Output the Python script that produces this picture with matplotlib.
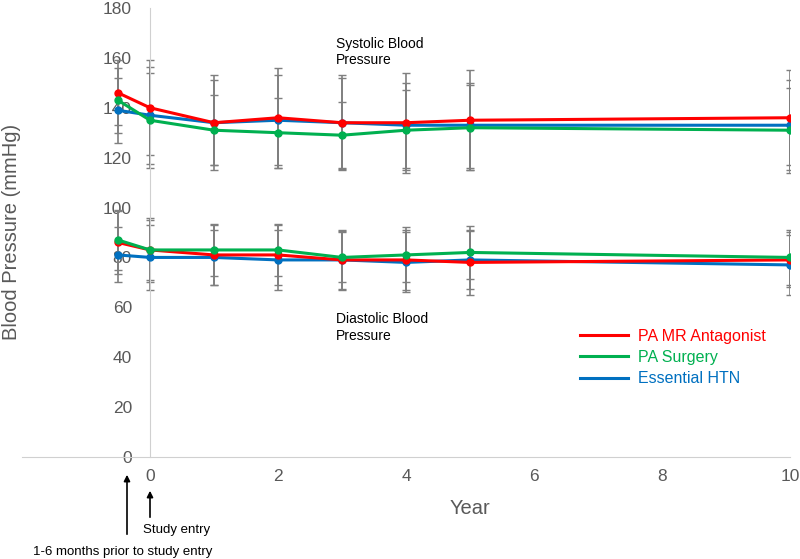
import matplotlib.pyplot as plt
from matplotlib.lines import Line2D

# Data
years = [-0.5, 0, 1, 2, 3, 4, 5, 10]

sys_mr = [146, 140, 134, 136, 134, 134, 135, 136]
sys_surg = [143, 135, 131, 130, 129, 131, 132, 131]
sys_htn = [139, 137, 134, 135, 134, 133, 133, 133]
sys_mr_sd = [13, 19, 19, 20, 19, 20, 20, 19]
sys_surg_sd = [13, 19, 14, 14, 13.5, 16, 17, 17]
sys_htn_sd = [13, 19.5, 17, 18, 18, 17, 17, 18]

dia_mr = [86, 83, 81, 81, 79, 79, 78, 79]
dia_surg = [87, 83, 83, 83, 80, 81, 82, 80]
dia_htn = [81, 80, 80, 79, 79, 78, 79, 77]
dia_mr_sd = [12.5, 13, 12, 12, 11.5, 12, 13, 11]
dia_surg_sd = [12, 12, 10.5, 10.5, 10, 11, 10.5, 11]
dia_htn_sd = [11, 13, 11, 12, 12, 12, 11.5, 12]

labels = ["PA MR Antagonist", "PA Surgery", "Essential HTN"]
colors = ["#ff0000", "#00b050", "#0070c0"]
xticks = [0, 2, 4, 6, 8, 10]
yticks = [0, 20, 40, 60, 80, 100, 120, 140, 160, 180]

plt.rcParams['font.family'] = ['Liberation Sans', 'DejaVu Sans']

fig = plt.figure(figsize=(8, 5.59), dpi=100)
ax = fig.add_axes([0.0275, 0.1825, 0.96, 0.8032])

series = [
    (sys_htn, sys_htn_sd, colors[2]),
    (sys_mr, sys_mr_sd, colors[0]),
    (sys_surg, sys_surg_sd, colors[1]),
    (dia_htn, dia_htn_sd, colors[2]),
    (dia_mr, dia_mr_sd, colors[0]),
    (dia_surg, dia_surg_sd, colors[1]),
]

# Error bars first, lines on top
for vals, sd, c in series:
    ax.errorbar(years, vals, yerr=sd, fmt='none', ecolor='#7f7f7f',
                elinewidth=1.2, capsize=3, capthick=1.0, zorder=2)
for vals, sd, c in series:
    ax.plot(years, vals, color=c, lw=2.2, marker='o', markersize=5, zorder=3)

ax.set_xlim(-2, 10)
ax.set_ylim(0, 180)
ax.set_xticks(xticks)
ax.set_yticks(yticks)

for s in ['top', 'right']:
    ax.spines[s].set_visible(False)
ax.spines['left'].set_position(('data', 0))
ax.spines['left'].set_color('#d0d0d0')
ax.spines['bottom'].set_color('#d0d0d0')
ax.tick_params(axis='both', length=0, labelsize=12.5, labelcolor='#595959')
ax.tick_params(axis='y', pad=13)
ax.tick_params(axis='x', pad=9)

# Section titles
ax.text(2.91, 162.4, "Systolic Blood\nPressure", fontsize=10, va='center',
        ha='left', linespacing=1.25)
ax.text(2.9, 52, "Diastolic Blood\nPressure", fontsize=10, va='center',
        ha='left', linespacing=1.25)

# Legend
handles = [Line2D([], [], color=c, lw=2.2) for c in colors]
leg = ax.legend(handles, labels, loc='upper left', bbox_to_anchor=(0.708, 0.318),
                frameon=False, fontsize=11.5, handlelength=3.0,
                handletextpad=0.6, labelspacing=0.4, labelcolor=colors)

# Axis titles
fig.text(12 / 800, 1 - 232 / 559, "Blood Pressure (mmHg)", rotation=90,
         ha='center', va='center', fontsize=14.5, color='#595959')
fig.text(470 / 800, 1 - 508 / 559, "Year", ha='center', va='center',
         fontsize=14.5, color='#595959')

# Timepoint notes
arrow = dict(arrowstyle='-|>', color='black', lw=1.2, mutation_scale=9)
ax.annotate("", xy=(127, 559 - 472), xytext=(127, 559 - 537),
            xycoords='figure pixels', textcoords='figure pixels',
            arrowprops=arrow, annotation_clip=False)
ax.annotate("", xy=(150, 559 - 488), xytext=(150, 559 - 520),
            xycoords='figure pixels', textcoords='figure pixels',
            arrowprops=arrow, annotation_clip=False)
fig.text(143 / 800, 1 - 530 / 559, "Study entry", fontsize=9.5,
         ha='left', va='center')
fig.text(33 / 800, 1 - 552 / 559, "1-6 months prior to study entry",
         fontsize=9.5, ha='left', va='center')

fig.savefig("out.png", dpi=100)
